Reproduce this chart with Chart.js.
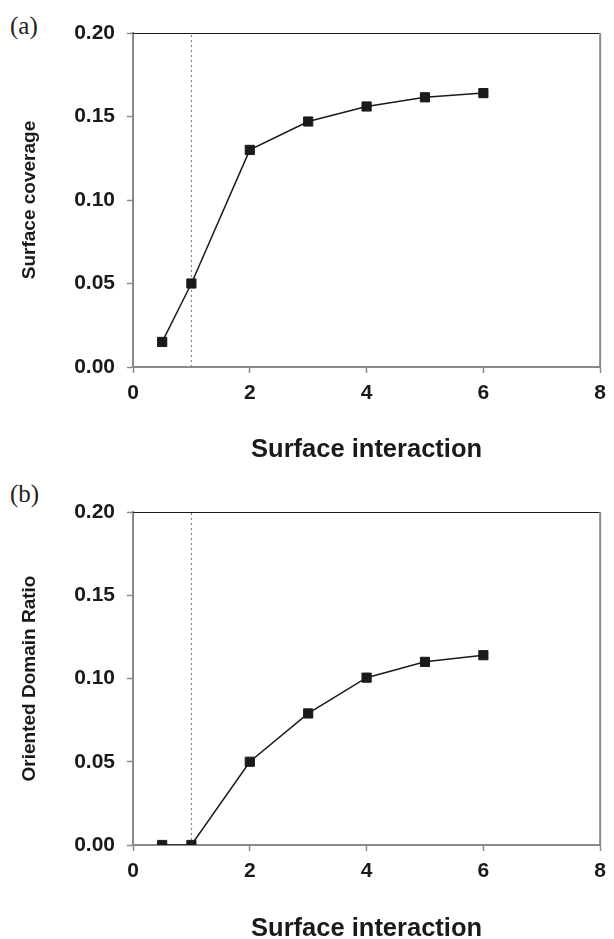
<!DOCTYPE html>
<html>
<head>
<meta charset="utf-8">
<script src="https://cdn.jsdelivr.net/npm/chart.js@4.4.0/dist/chart.umd.min.js"></script>
<style>
  body { margin: 0; background: #fff; overflow: hidden; }
  #wrap { position: relative; width: 614px; height: 939px; }
  canvas { position: absolute; left: 0; }
  .tag { position: absolute; left: 10px; font-family: "Liberation Serif", serif; font-size: 25px; line-height: 25px; color: #222; }
</style>
</head>
<body>
<div id="wrap">
  <div class="tag" style="top:13px">(a)</div>
  <canvas id="chartA" width="614" height="470" style="top:0"></canvas>
  <div class="tag" style="top:481px">(b)</div>
  <canvas id="chartB" width="614" height="469" style="top:470px"></canvas>
</div>
<script>
// values
var interaction = [0.5, 1, 2, 3, 4, 5, 6]
var coverage = [0.015, 0.050, 0.130, 0.147, 0.156, 0.1615, 0.164]
var domainRatio = [0, 0, 0.050, 0.079, 0.1005, 0.110, 0.114]
var xTicks = [0, 2, 4, 6, 8]
var yTicks = [0, 0.05, 0.10, 0.15, 0.20]
var markerX = 1   // dotted vertical line

var GREY = '#8a8a8a'
var INK = '#1a1a1a'

// top and right frame lines
var framePlugin = {
  id: 'frame',
  afterDraw: function(chart) {
    var a = chart.chartArea, ctx = chart.ctx
    ctx.save()
    ctx.strokeStyle = INK
    ctx.lineWidth = 1
    ctx.beginPath()
    ctx.moveTo(a.left, a.top + 0.5)
    ctx.lineTo(a.right, a.top + 0.5)
    ctx.stroke()
    ctx.strokeStyle = GREY
    ctx.lineWidth = 2
    ctx.beginPath()
    ctx.moveTo(a.right, a.top)
    ctx.lineTo(a.right, a.bottom)
    ctx.stroke()
    ctx.restore()
  }
}

function makeChart(id, values, yTitle, padTop, xHeight, xTitleLH, xTitlePad) {
  var pts = []
  for (var i = 0; i < interaction.length; i++) {
    pts.push({x: interaction[i], y: values[i]})
  }
  var ctx = document.getElementById(id).getContext('2d')
  return new Chart(ctx, {
    type: 'scatter',
    data: {
      datasets: [{
        data: pts,
        showLine: true,
        borderColor: INK,
        borderWidth: 1.5,
        pointStyle: 'rect',
        pointRadius: 6.5,
        pointBackgroundColor: INK,
        pointBorderColor: INK,
        pointBorderWidth: 1
      }, {
        data: [{x: markerX, y: yTicks[0]}, {x: markerX, y: yTicks[yTicks.length - 1]}],
        showLine: true,
        borderColor: '#888',
        borderWidth: 1.2,
        borderDash: [2, 3],
        pointRadius: 0
      }]
    },
    options: {
      responsive: false,
      animation: false,
      layout: { padding: { top: padTop, right: 7, left: 0, bottom: 0 } },
      plugins: { legend: { display: false }, tooltip: { enabled: false } },
      scales: {
        x: {
          type: 'linear',
          min: xTicks[0], max: xTicks[xTicks.length - 1],
          afterBuildTicks: function(s) { s.ticks = xTicks.map(function(v) { return {value: v} }) },
          afterFit: function(s) { s.height = xHeight },
          grid: { drawOnChartArea: false, drawTicks: true, tickLength: 6, tickColor: GREY, tickWidth: 1.5 },
          border: { color: GREY, width: 2 },
          ticks: { color: INK, padding: 8, font: { family: 'Liberation Sans', weight: 'bold', size: 21 } },
          title: { display: true, text: 'Surface interaction', color: INK,
                   padding: { top: 0, bottom: xTitlePad },
                   font: { family: 'Liberation Sans', weight: 'bold', size: 25.5, lineHeight: xTitleLH } }
        },
        y: {
          min: yTicks[0], max: yTicks[yTicks.length - 1],
          afterBuildTicks: function(s) { s.ticks = yTicks.map(function(v) { return {value: v} }) },
          afterFit: function(s) { s.width = 133 },
          grid: { drawOnChartArea: false, drawTicks: true, tickLength: 6, tickColor: GREY, tickWidth: 1.5 },
          border: { color: GREY, width: 2 },
          ticks: { color: INK, padding: 12, callback: function(v) { return v.toFixed(2) },
                   font: { family: 'Liberation Sans', weight: 'bold', size: 21 } },
          title: { display: true, text: yTitle, color: INK,
                   padding: { top: 20, bottom: 0 },
                   font: { family: 'Liberation Sans', weight: 'bold', size: 19, lineHeight: 1 } }
        }
      }
    },
    plugins: [framePlugin]
  })
}

makeChart('chartA', coverage, 'Surface coverage', 33, 103, 1, 7)
makeChart('chartB', domainRatio, 'Oriented Domain Ratio', 42, 94, 0.8, 0)
</script>
</body>
</html>
